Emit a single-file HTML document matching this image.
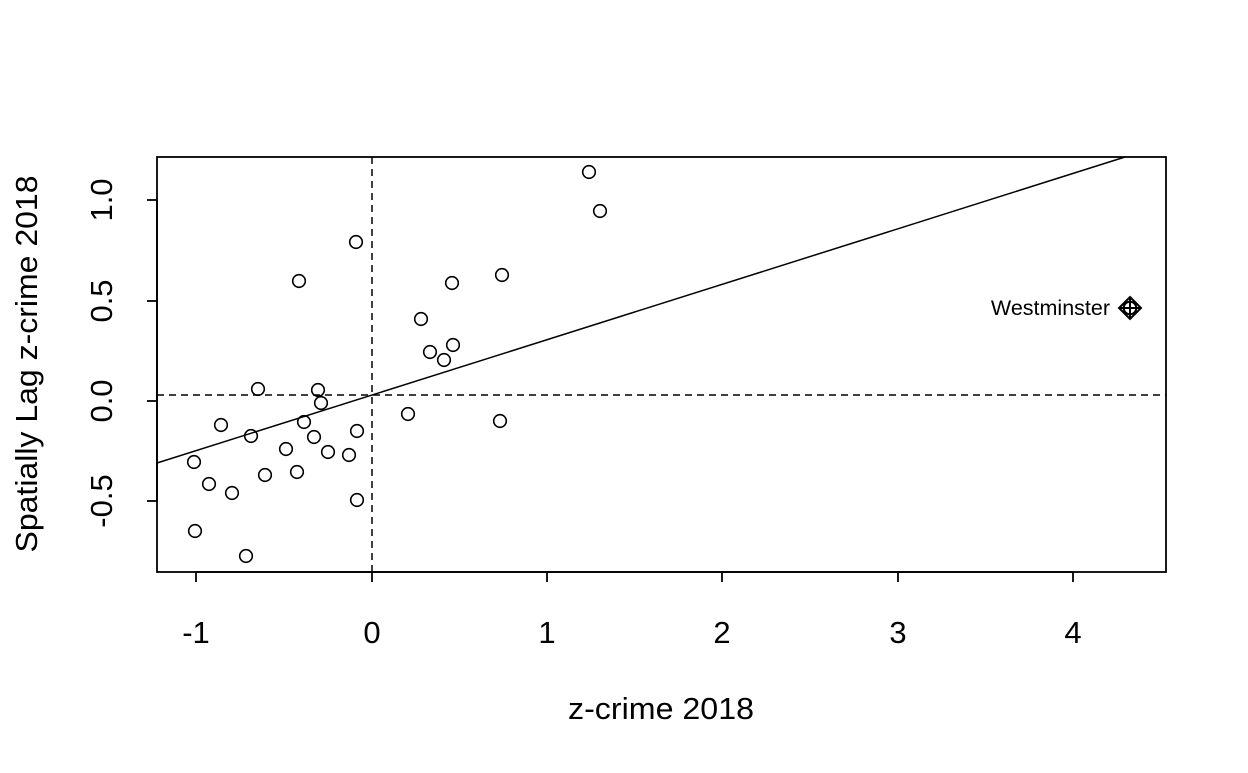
<!DOCTYPE html>
<html><head><meta charset="utf-8"><style>
html,body{margin:0;padding:0;background:#fff;}
svg text{font-family:"Liberation Sans",Arial,sans-serif;fill:#000;}
</style></head><body>
<svg width="1248" height="768" viewBox="0 0 1248 768" xmlns="http://www.w3.org/2000/svg">
<rect width="1248" height="768" fill="#fff"/>
<rect x="157" y="157" width="1009" height="415" fill="none" stroke="#000" stroke-width="1.8"/>
<g stroke="#000" stroke-width="1.8">
<line x1="196" y1="572" x2="1073" y2="572"/>
<line x1="196" y1="572" x2="196" y2="582"/>
<line x1="372" y1="572" x2="372" y2="582"/>
<line x1="547" y1="572" x2="547" y2="582"/>
<line x1="722" y1="572" x2="722" y2="582"/>
<line x1="898" y1="572" x2="898" y2="582"/>
<line x1="1073" y1="572" x2="1073" y2="582"/>
<line x1="157" y1="200" x2="157" y2="501"/>
<line x1="147" y1="200" x2="157" y2="200"/>
<line x1="147" y1="301" x2="157" y2="301"/>
<line x1="147" y1="401" x2="157" y2="401"/>
<line x1="147" y1="501" x2="157" y2="501"/>
</g>
<g font-size="31" text-anchor="middle">
<text x="196" y="643">-1</text><text x="372" y="643">0</text><text x="547" y="643">1</text>
<text x="722" y="643">2</text><text x="898" y="643">3</text><text x="1073" y="643">4</text>
<text transform="translate(112,200) rotate(-90)">1.0</text>
<text transform="translate(112,301) rotate(-90)">0.5</text>
<text transform="translate(112,401) rotate(-90)">0.0</text>
<text transform="translate(112,501) rotate(-90)">-0.5</text>
<text x="661" y="719" textLength="186" lengthAdjust="spacingAndGlyphs">z-crime 2018</text>
<text transform="translate(37,364) rotate(-90)" textLength="377" lengthAdjust="spacingAndGlyphs">Spatially Lag z-crime 2018</text>
</g>
<g stroke="#000" stroke-width="1.5" fill="none">
<line x1="372" y1="157" x2="372" y2="572" stroke-dasharray="7,5"/>
<line x1="157" y1="395" x2="1166" y2="395" stroke-dasharray="7,5"/>
<line x1="157" y1="463" x2="1125" y2="157"/>
</g>
<g stroke="#000" stroke-width="1.6" fill="none">
<circle cx="589" cy="172" r="6.3"/><circle cx="600" cy="211" r="6.3"/><circle cx="356" cy="242" r="6.3"/>
<circle cx="299" cy="281" r="6.3"/><circle cx="502" cy="275" r="6.3"/><circle cx="452" cy="283" r="6.3"/>
<circle cx="421" cy="319" r="6.3"/><circle cx="430" cy="352" r="6.3"/><circle cx="453" cy="345" r="6.3"/>
<circle cx="444" cy="360" r="6.3"/><circle cx="258" cy="389" r="6.3"/><circle cx="318" cy="390" r="6.3"/>
<circle cx="321" cy="403" r="6.3"/><circle cx="408" cy="414" r="6.3"/><circle cx="500" cy="421" r="6.3"/>
<circle cx="221" cy="425" r="6.3"/><circle cx="304" cy="422" r="6.3"/><circle cx="357" cy="431" r="6.3"/>
<circle cx="251" cy="436" r="6.3"/><circle cx="314" cy="437" r="6.3"/><circle cx="286" cy="449" r="6.3"/>
<circle cx="328" cy="452" r="6.3"/><circle cx="349" cy="455" r="6.3"/><circle cx="194" cy="462" r="6.3"/>
<circle cx="297" cy="472" r="6.3"/><circle cx="265" cy="475" r="6.3"/><circle cx="209" cy="484" r="6.3"/>
<circle cx="232" cy="493" r="6.3"/><circle cx="357" cy="500" r="6.3"/><circle cx="195" cy="531" r="6.3"/>
<circle cx="246" cy="556" r="6.3"/>
</g>
<g stroke="#000" stroke-width="2" fill="none">
<circle cx="1130" cy="308" r="6.3"/>
<polygon points="1130,297 1141,308 1130,319 1119,308"/>
<line x1="1120" y1="308" x2="1140" y2="308"/><line x1="1130" y1="298" x2="1130" y2="318"/>
</g>
<text x="1110" y="315" font-size="21.5" text-anchor="end">Westminster</text>
</svg>
</body></html>
